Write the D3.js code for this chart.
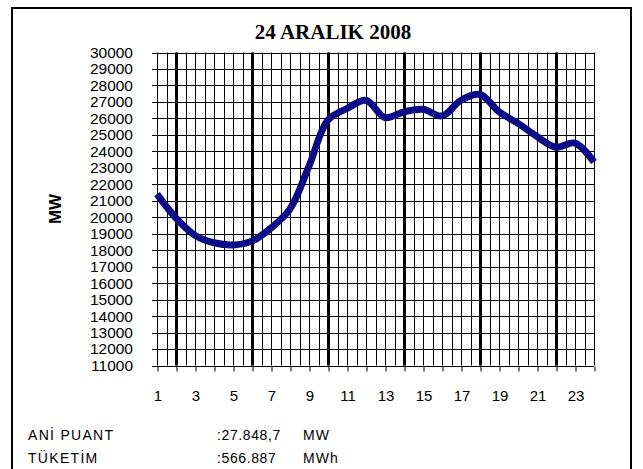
<!DOCTYPE html>
<html>
<head>
<meta charset="utf-8">
<script src="https://cdn.jsdelivr.net/npm/d3@7"></script>
<style>
  body { margin: 0; background: #fff; }
  svg text { fill: #000; }
</style>
</head>
<body>
<svg id="chart" width="643" height="469"></svg>
<script>
// hourly load, 24 Aralık 2008 (MW)
const hours = d3.range(1, 25);
const load = [21400, 19950, 18900, 18450, 18320, 18550, 19350, 20500,
              23100, 25900, 26600, 27100, 26050, 26400, 26550, 26150,
              27100, 27450, 26400, 25700, 24900, 24250, 24500, 23350];
const yTicks = d3.range(11000, 30001, 1000);
const majorHours = [2, 6, 10, 14, 18, 22];
const title = '24 ARALIK 2008';
const yTitle = 'MW';
const summaryNames = ['ANİ PUANT', 'TÜKETİM'];
const summaryValues = [':27.848,7', ':566.887'];
const summaryUnits = ['MW', 'MWh'];

const svg = d3.select('#chart');

// outer frame
svg.append('rect')
    .attr('x', 12).attr('y', 8)
    .attr('width', 619).attr('height', 475)
    .attr('fill', 'none')
    .attr('stroke', '#000')
    .attr('stroke-width', 2);

const x = d3.scaleLinear().domain([1, 24]).range([157, 594]);
const y = d3.scaleLinear().domain([11000, 30000]).range([365.5, 52.5]);

const grid = svg.append('g');

// horizontal grid (with short outer ticks on the left)
grid.selectAll('.hgrid')
    .data(yTicks)
    .enter().append('line')
    .attr('x1', x(1) - 5)
    .attr('x2', x(24))
    .attr('y1', d => Math.round(y(d)) + 0.5)
    .attr('y2', d => Math.round(y(d)) + 0.5)
    .attr('stroke', '#000');

// minor vertical grid every half hour
grid.selectAll('.vgrid')
    .data(d3.range(1, 24.01, 0.5))
    .enter().append('line')
    .attr('x1', d => Math.round(x(d)) + 0.5)
    .attr('x2', d => Math.round(x(d)) + 0.5)
    .attr('y1', y(30000))
    .attr('y2', y(11000))
    .attr('stroke', '#000');

// thick vertical lines every 4 hours
grid.selectAll('.vmajor')
    .data(majorHours)
    .enter().append('line')
    .attr('x1', d => Math.round(x(d)) + 0.5)
    .attr('x2', d => Math.round(x(d)) + 0.5)
    .attr('y1', y(30000))
    .attr('y2', y(11000))
    .attr('stroke', '#000')
    .attr('stroke-width', 3);

// x axis
const xAxis = svg.append('g')
    .attr('transform', `translate(0.5,${Math.round(y(11000)) + 0.5})`)
    .call(d3.axisBottom(x)
        .tickValues(hours)
        .tickSize(5)
        .tickPadding(19)
        .tickFormat(d => d % 2 === 1 ? d : ''));
xAxis.select('.domain').remove();
xAxis.selectAll('line').attr('stroke', '#000');
xAxis.selectAll('text')
    .attr('font-family', 'Liberation Sans, Arial, sans-serif')
    .attr('font-size', 15);

// y axis labels
const yAxis = svg.append('g')
    .attr('transform', `translate(${x(1) - 5},0)`)
    .call(d3.axisLeft(y).tickValues(yTicks).tickSize(0).tickPadding(19)
        .tickFormat(d3.format('d')));
yAxis.select('.domain').remove();
yAxis.selectAll('text')
    .attr('font-family', 'Liberation Sans, Arial, sans-serif')
    .attr('font-size', 15.5);

// load line
const line = d3.line()
    .x((d, i) => x(hours[i]))
    .y(d => y(d))
    .curve(d3.curveCatmullRom.alpha(0.5));

svg.append('path')
    .datum(load)
    .attr('d', line)
    .attr('fill', 'none')
    .attr('stroke', '#0b0b85')
    .attr('stroke-width', 7)
    .attr('stroke-linejoin', 'round')
    .attr('stroke-linecap', 'butt');

// titles
svg.append('text')
    .attr('x', 333).attr('y', 39)
    .attr('text-anchor', 'middle')
    .attr('font-family', 'Liberation Serif, Times New Roman, serif')
    .attr('font-weight', 'bold')
    .attr('font-size', 21)
    .text(title);

svg.append('text')
    .attr('transform', `translate(61,${y(20500)}) rotate(-90)`)
    .attr('text-anchor', 'middle')
    .attr('font-family', 'Liberation Sans, Arial, sans-serif')
    .attr('font-weight', 'bold')
    .attr('font-size', 17)
    .text(yTitle);

// summary rows
const rows = svg.append('g')
    .attr('font-family', 'Liberation Sans, Arial, sans-serif')
    .attr('font-size', 14);
summaryNames.forEach((name, i) => {
    const by = 440 + i * 23;
    rows.append('text').attr('x', 28).attr('y', by)
        .attr('letter-spacing', 1.3).text(name);
    rows.append('text').attr('x', 217).attr('y', by)
        .attr('letter-spacing', 0.6).text(summaryValues[i]);
    rows.append('text').attr('x', 303).attr('y', by)
        .attr('letter-spacing', 1).text(summaryUnits[i]);
});
</script>
</body>
</html>
